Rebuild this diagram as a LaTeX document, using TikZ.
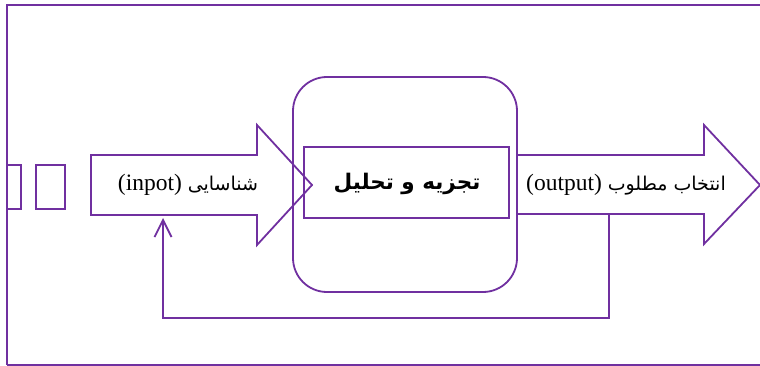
\documentclass[tikz,border=0pt]{standalone}
\usepackage{fontspec}
\setmainfont{Liberation Serif}
\newfontfamily\arabicfont[Script=Arabic]{DejaVu Sans}
\TeXXeTstate=1
\usetikzlibrary{arrows.meta}
\definecolor{lineviolet}{HTML}{7030A0}
\tikzset{
  shapeline/.style={draw=lineviolet, line width=1.8pt, line join=miter},
  lbl/.style={inner sep=0pt, font=\fontsize{23.5}{27}\selectfont},
}
\begin{document}
\begin{tikzpicture}[x=1pt,y=-1pt]
\useasboundingbox (0,0) rectangle (760,366);
% outer frame
\draw[shapeline] (7,365) -- (7,5) -- (762,5);
\draw[shapeline] (7,365) -- (762,365);
% small rectangles at left
\draw[shapeline, line width=1.3pt] (7,165) rectangle (21,209);
\draw[shapeline, line width=1.3pt] (36,165) rectangle (65,209);
% rounded box and inner box
\draw[shapeline] (293,77) [rounded corners=34pt] rectangle (517,292);
\node[draw=lineviolet, line width=1.5pt, minimum width=205pt, minimum height=71pt, inner sep=0pt] (analysis) at (406.5,182.5) {};
\node[lbl, font=\fontsize{21.5}{25}\selectfont\bfseries] (analysistext) at (407,184) {\arabicfont\beginR تجزیه و تحلیل\endR};
% left arrow
\draw[shapeline] (91,155) -- (257,155) -- (257,125) -- (312,185) -- (257,245) -- (257,215) -- (91,215) -- cycle;
\node[lbl] (inputtext) at (188,185) {(inpot) {\arabicfont\fontsize{19}{23}\selectfont\beginR شناسایی\endR}};
% right arrow
\draw[shapeline] (517,155) -- (704,155) -- (704,125) -- (760,185) -- (704,244) -- (704,214) -- (517,214);
\node[lbl] (outputtext) at (626,185) {(output) {\arabicfont\fontsize{19}{23}\selectfont\beginR انتخاب مطلوب\endR}};
% feedback
\coordinate (fbstart) at (609,214);
\coordinate (fbend) at (163,218);
\draw[shapeline, -{Straight Barb[length=17pt,width=17pt,line width=1.8pt]}] (fbstart) |- (163,318) -- (fbend);
\end{tikzpicture}
\end{document}
